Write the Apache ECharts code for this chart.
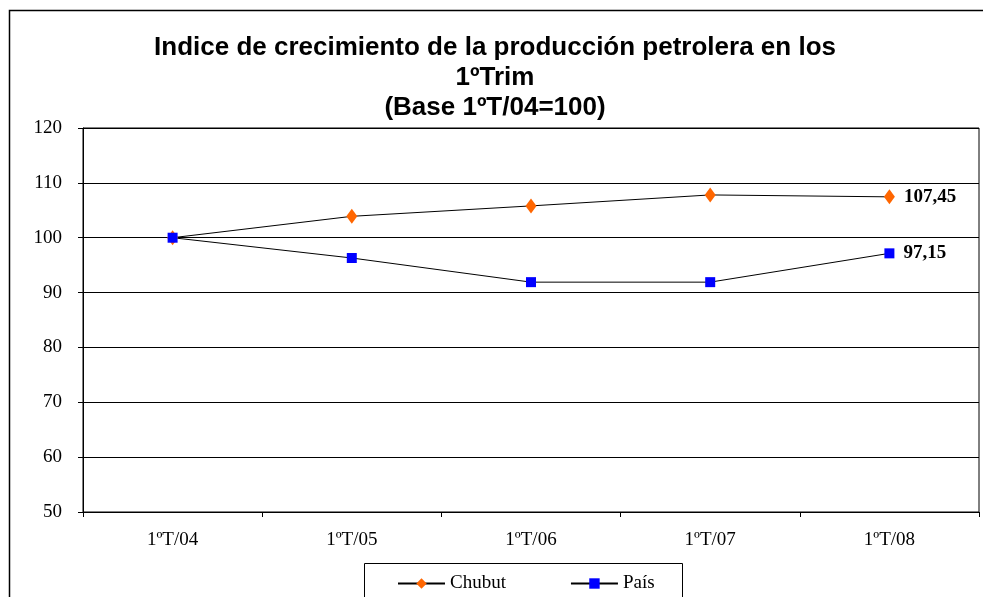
<!DOCTYPE html>
<html><head><meta charset="utf-8">
<script src="https://cdn.jsdelivr.net/npm/echarts@6/dist/echarts.min.js"></script>
<style>html,body{margin:0;padding:0;background:#fff}#c{width:983px;height:597px}</style>
</head><body><div id="c"></div>
<script>
const categories = ['1ºT/04','1ºT/05','1ºT/06','1ºT/07','1ºT/08'];
const chubut = [100, 103.9, 105.8, 107.8, 107.45];
const pais = [100, 96.3, 91.9, 91.9, 97.15];
const yTicks = {min: 50, max: 120, interval: 10};
const titleText = 'Indice de crecimiento de la producción petrolera en los\n1ºTrim\n(Base 1ºT/04=100)';

const chart = echarts.init(document.getElementById('c'), null, {renderer:'canvas'});
function lastLabel(arr){
  return arr.map((v,i)=> i===arr.length-1 ? {value:v, label:{show:true, position:'right', distance:9, formatter: p => String(p.value).replace('.', ','), fontFamily:'Liberation Serif', fontWeight:'bold', fontSize:19, color:'#000'}} : v);
}
chart.setOption({
  animation:false,
  backgroundColor:'#fff',
  title:{text:titleText, left:490, textAlign:'center', top:28, textStyle:{fontFamily:'Liberation Sans', fontWeight:'bold', fontSize:26, lineHeight:30, color:'#000'}},
  graphic:[
    {type:'rect', shape:{x:9.5, y:10.5, width:1000, height:1000}, style:{fill:null, stroke:'#000', lineWidth:1.5}, z:-1},
    {type:'rect', shape:{x:364.5, y:563.5, width:318, height:60}, style:{fill:'#fff', stroke:'#000', lineWidth:1}, z:1}
  ],
  legend:{left:392, top:569, itemWidth:47, itemHeight:13, itemGap:64, z:10,
    textStyle:{fontFamily:'Liberation Serif', fontSize:19, color:'#000'},
    data:['Chubut','País']},
  grid:{left:83, top:128, right:4, bottom:85, show:true, borderColor:'#000', borderWidth:1},
  xAxis:{type:'category', data:categories, boundaryGap:true,
    axisLine:{lineStyle:{color:'#000', width:1}},
    axisTick:{show:true, length:5, lineStyle:{color:'#000'}},
    axisLabel:{fontFamily:'Liberation Serif', fontSize:19, color:'#000', margin:19}},
  yAxis:{type:'value', min:yTicks.min, max:yTicks.max, interval:yTicks.interval,
    axisLine:{show:true, lineStyle:{color:'#000', width:1}},
    axisTick:{show:true, length:5, lineStyle:{color:'#000'}},
    axisLabel:{fontFamily:'Liberation Serif', fontSize:19, color:'#000', margin:21},
    splitLine:{show:true, lineStyle:{color:'#000', width:1}}},
  series:[
    {name:'Chubut', type:'line', data:lastLabel(chubut), symbol:'diamond', symbolSize:[11,15],
      itemStyle:{color:'#FF6600'}, lineStyle:{color:'#000', width:1}},
    {name:'País', type:'line', data:lastLabel(pais), symbol:'rect', symbolSize:[10,10],
      itemStyle:{color:'#0000FF'}, lineStyle:{color:'#000', width:1}}
  ]
});
</script></body></html>
